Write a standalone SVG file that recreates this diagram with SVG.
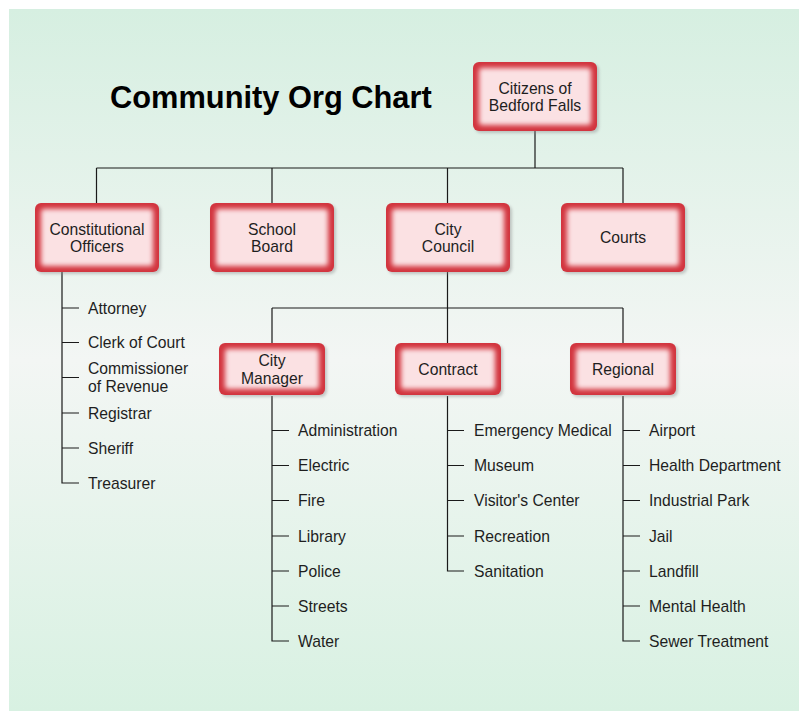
<svg xmlns="http://www.w3.org/2000/svg" width="807" height="720" viewBox="0 0 807 720">
  <defs>
    <linearGradient id="bg" x1="0" y1="0" x2="0" y2="1">
      <stop offset="0" stop-color="#d6efe1"/>
      <stop offset="0.5" stop-color="#f3f6f4"/>
      <stop offset="1" stop-color="#d8f1e2"/>
    </linearGradient>
    <filter id="glow" x="-20%" y="-30%" width="140%" height="160%">
      <feGaussianBlur stdDeviation="2.6"/>
    </filter>
    <filter id="shadow" x="-20%" y="-30%" width="140%" height="160%">
      <feGaussianBlur stdDeviation="1.5"/>
    </filter>
    <style>
      .shadow { fill: #8a8a8a; opacity: 0.45; }
      .edge { fill: #d2343e; }
      .core { fill: #fbe1e3; }
      .nt { font-family: "Liberation Sans", Arial, sans-serif; font-size: 15.7px; fill: #1e1e1e; text-anchor: middle; }
      .it { font-family: "Liberation Sans", Arial, sans-serif; font-size: 15.7px; fill: #1e1e1e; }
      .title { font-family: "Liberation Sans", Arial, sans-serif; font-size: 30.8px; font-weight: bold; fill: #000; }
      .conn path { fill: none; stroke: #1a1a1a; stroke-width: 1.2; }
    </style>
  </defs>

  <rect x="9" y="9" width="790" height="702" fill="url(#bg)"/>

  <text class="title" x="110" y="108">Community Org Chart</text>

  <g id="connectors" class="conn">
    <path d="M535 131 V168"/>
    <path d="M96.5 168 H623"/>
    <path d="M96.5 168 V203 M272 168 V203 M447.5 168 V203 M623 168 V203"/>
    <path d="M62 272 V483 H79 M62 308 H79 M62 342.5 H79 M62 377.5 H79 M62 413 H79 M62 448 H79"/>
    <path d="M447.5 272 V308 M272 308 H623 M272 308 V343 M447.5 308 V343 M623 308 V343"/>
    <path d="M272 396 V641 H289 M272 430.5 H289 M272 465.5 H289 M272 500.5 H289 M272 536 H289 M272 571 H289 M272 606 H289"/>
    <path d="M447.5 396 V571 H464 M447.5 430.5 H464 M447.5 465.5 H464 M447.5 500.5 H464 M447.5 536 H464"/>
    <path d="M623 396 V641 H640 M623 430.5 H640 M623 465.5 H640 M623 500.5 H640 M623 536 H640 M623 571 H640 M623 606 H640"/>
  </g>

  <g id="n-citizens">
    <rect class="shadow" x="475" y="64" width="124" height="69" rx="6" filter="url(#shadow)"/>
    <rect class="edge" x="473" y="62" width="124" height="69" rx="6"/>
    <rect class="core" x="479" y="68" width="112" height="57" rx="3" filter="url(#glow)"/>
    <text class="nt" x="535" y="93.5">Citizens of</text>
    <text class="nt" x="535" y="111">Bedford Falls</text>
  </g>

  <g id="n-constitutional">
    <rect class="shadow" x="37" y="205" width="124" height="69" rx="6" filter="url(#shadow)"/>
    <rect class="edge" x="35" y="203" width="124" height="69" rx="6"/>
    <rect class="core" x="41" y="209" width="112" height="57" rx="3" filter="url(#glow)"/>
    <text class="nt" x="97" y="234.5">Constitutional</text>
    <text class="nt" x="97" y="252">Officers</text>
  </g>

  <g id="n-school">
    <rect class="shadow" x="212" y="205" width="124" height="69" rx="6" filter="url(#shadow)"/>
    <rect class="edge" x="210" y="203" width="124" height="69" rx="6"/>
    <rect class="core" x="216" y="209" width="112" height="57" rx="3" filter="url(#glow)"/>
    <text class="nt" x="272" y="234.5">School</text>
    <text class="nt" x="272" y="252">Board</text>
  </g>

  <g id="n-council">
    <rect class="shadow" x="388" y="205" width="124" height="69" rx="6" filter="url(#shadow)"/>
    <rect class="edge" x="386" y="203" width="124" height="69" rx="6"/>
    <rect class="core" x="392" y="209" width="112" height="57" rx="3" filter="url(#glow)"/>
    <text class="nt" x="448" y="234.5">City</text>
    <text class="nt" x="448" y="252">Council</text>
  </g>

  <g id="n-courts">
    <rect class="shadow" x="563" y="205" width="124" height="69" rx="6" filter="url(#shadow)"/>
    <rect class="edge" x="561" y="203" width="124" height="69" rx="6"/>
    <rect class="core" x="567" y="209" width="112" height="57" rx="3" filter="url(#glow)"/>
    <text class="nt" x="623" y="243">Courts</text>
  </g>

  <g id="n-manager">
    <rect class="shadow" x="221" y="345" width="106" height="52" rx="6" filter="url(#shadow)"/>
    <rect class="edge" x="219" y="343" width="106" height="52" rx="6"/>
    <rect class="core" x="225" y="349" width="94" height="40" rx="3" filter="url(#glow)"/>
    <text class="nt" x="272" y="365.5">City</text>
    <text class="nt" x="272" y="383.5">Manager</text>
  </g>

  <g id="n-contract">
    <rect class="shadow" x="397" y="345" width="106" height="52" rx="6" filter="url(#shadow)"/>
    <rect class="edge" x="395" y="343" width="106" height="52" rx="6"/>
    <rect class="core" x="401" y="349" width="94" height="40" rx="3" filter="url(#glow)"/>
    <text class="nt" x="448" y="374.5">Contract</text>
  </g>

  <g id="n-regional">
    <rect class="shadow" x="572" y="345" width="106" height="52" rx="6" filter="url(#shadow)"/>
    <rect class="edge" x="570" y="343" width="106" height="52" rx="6"/>
    <rect class="core" x="576" y="349" width="94" height="40" rx="3" filter="url(#glow)"/>
    <text class="nt" x="623" y="374.5">Regional</text>
  </g>

  <g id="list-constitutional">
    <text class="it" x="88" y="313.5">Attorney</text>
    <text class="it" x="88" y="348">Clerk of Court</text>
    <text class="it" x="88" y="374">Commissioner</text>
    <text class="it" x="88" y="391.5">of Revenue</text>
    <text class="it" x="88" y="418.5">Registrar</text>
    <text class="it" x="88" y="453.5">Sheriff</text>
    <text class="it" x="88" y="488.5">Treasurer</text>
  </g>

  <g id="list-manager">
    <text class="it" x="298" y="436">Administration</text>
    <text class="it" x="298" y="471">Electric</text>
    <text class="it" x="298" y="506">Fire</text>
    <text class="it" x="298" y="541.5">Library</text>
    <text class="it" x="298" y="576.5">Police</text>
    <text class="it" x="298" y="611.5">Streets</text>
    <text class="it" x="298" y="646.5">Water</text>
  </g>

  <g id="list-contract">
    <text class="it" x="474" y="436">Emergency Medical</text>
    <text class="it" x="474" y="471">Museum</text>
    <text class="it" x="474" y="506">Visitor's Center</text>
    <text class="it" x="474" y="541.5">Recreation</text>
    <text class="it" x="474" y="576.5">Sanitation</text>
  </g>

  <g id="list-regional">
    <text class="it" x="649" y="436">Airport</text>
    <text class="it" x="649" y="471">Health Department</text>
    <text class="it" x="649" y="506">Industrial Park</text>
    <text class="it" x="649" y="541.5">Jail</text>
    <text class="it" x="649" y="576.5">Landfill</text>
    <text class="it" x="649" y="611.5">Mental Health</text>
    <text class="it" x="649" y="646.5">Sewer Treatment</text>
  </g>
</svg>
